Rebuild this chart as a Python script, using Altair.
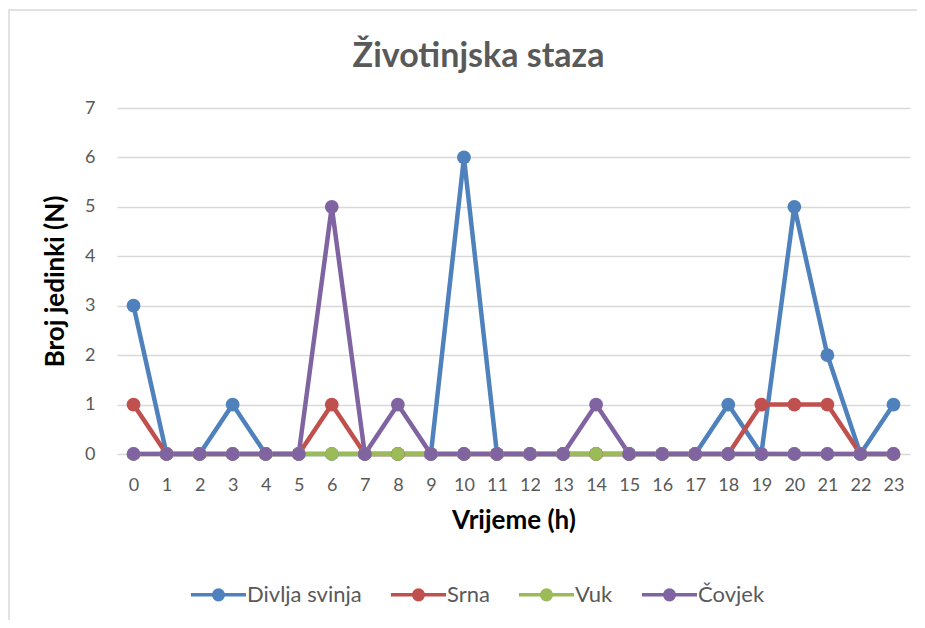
import altair as alt
import pandas as pd

hours = list(range(24))
series = ["Divlja svinja", "Srna", "Vuk", "Čovjek"]
colors = ["#4F81BD", "#C0504D", "#9BBB59", "#8064A2"]
divlja_svinja = [3, 0, 0, 1, 0, 0, 0, 0, 0, 0, 6, 0, 0, 0, 0, 0, 0, 0, 1, 0, 5, 2, 0, 1]
srna = [1, 0, 0, 0, 0, 0, 1, 0, 0, 0, 0, 0, 0, 0, 0, 0, 0, 0, 0, 1, 1, 1, 0, 0]
vuk = [0] * 24
covjek = [0, 0, 0, 0, 0, 0, 5, 0, 1, 0, 0, 0, 0, 0, 1, 0, 0, 0, 0, 0, 0, 0, 0, 0]
y_ticks = [0, 1, 2, 3, 4, 5, 6, 7]

rows = []
for name, vals in zip(series, [divlja_svinja, srna, vuk, covjek]):
    for h, v in zip(hours, vals):
        rows.append({"h": h, "N": v, "s": name})
df = pd.DataFrame(rows)

FONT = "Lato"
GRAY = "#595959"

color = alt.Color(
    "s:N",
    scale=alt.Scale(domain=series, range=colors),
    sort=series,
    legend=alt.Legend(
        title=None,
        orient="none",
        legendX=86,
        legendY=471,
        direction="horizontal",
        symbolType="M-2,0L2,0M0.35,0A0.35,0.35 0 1 1 -0.35,0A0.35,0.35 0 1 1 0.35,0Z",
        symbolSize=756,
        symbolStrokeWidth=3.5,
        labelFont=FONT,
        labelFontSize=22,
        labelColor=GRAY,
        labelOffset=13,
        columnPadding=22,
    ),
)

base = alt.Chart(df).encode(
    x=alt.X(
        "h:O",
        title="Vrijeme (h)",
        sort=hours,
        axis=alt.Axis(labelAngle=0, ticks=False, domain=False, grid=False,
                      labelFont=FONT, labelFontSize=18, labelColor=GRAY, labelPadding=22,
                      titleFont=FONT, titleFontSize=26, titleFontWeight="bold",
                      titleColor="#000000", titlePadding=13),
    ),
    y=alt.Y(
        "N:Q",
        title="Broj jedinki (N)",
        scale=alt.Scale(domain=[0, 7]),
        axis=alt.Axis(values=y_ticks, ticks=False, domain=False, labelOverlap=False,
                      gridColor="#D9D9D9", gridWidth=1.3,
                      labelFont=FONT, labelFontSize=18, labelColor=GRAY, labelPadding=22,
                      titleFont=FONT, titleFontSize=26, titleFontWeight="bold",
                      titleColor="#000000", titlePadding=16),
    ),
    color=color,
)

lines = base.mark_line(strokeWidth=4.5, point=alt.OverlayMarkDef(size=190, filled=True, opacity=1))

border = alt.Chart(pd.DataFrame({"a": [0]})).mark_rect(
    fill=None, stroke="#D9D9D9", strokeWidth=1.5
).encode(
    x=alt.value(-108), x2=alt.value(815), y=alt.value(-98), y2=alt.value(525)
)

chart = alt.layer(border, lines).properties(
    width=793,
    height=346,
    title=alt.Title("Životinjska staza", font=FONT, fontSize=34, fontWeight="bold",
                    color=GRAY, dx=-35, offset=-65),
    padding={"left": 109, "top": 100, "right": 7, "bottom": 166},
    autosize=alt.AutoSizeParams(type="none"),
).configure_view(stroke=None)

chart.save("out.html", embed_options={"renderer": "svg", "actions": False})
